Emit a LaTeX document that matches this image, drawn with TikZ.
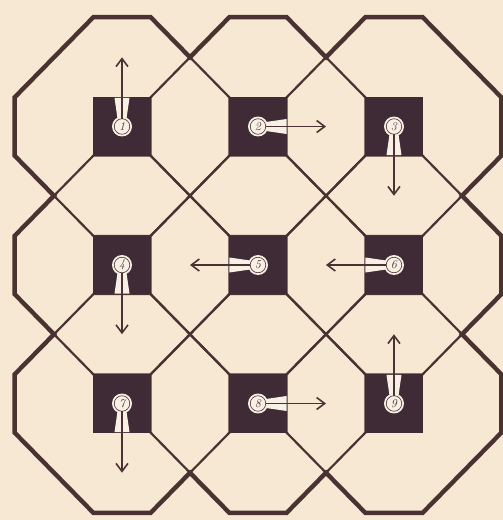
\documentclass[tikz,border=0pt]{standalone}
\usepackage{tikz}
\usetikzlibrary{arrows.meta,calc}
\definecolor{paper}{HTML}{F6E8D3}
\definecolor{ink}{HTML}{4A3233}
\definecolor{pit}{HTML}{3F2B36}
\definecolor{pearl}{HTML}{F8F0E4}
\begin{document}
\begin{tikzpicture}[x=136pt,y=138.5pt,
  seam/.style={ink,line width=2.2pt},
  rim/.style={ink,line width=4.4pt,line join=miter},
  ball/.style={circle,fill=pearl,draw=pearl,double=ink,double distance=0.6pt,
    line width=1.9pt,minimum size=15.5pt,inner sep=0pt,outer sep=0pt,
    font=\fontsize{12}{12}\selectfont\itshape,text=ink},
  move/.style={ink,line width=1.6pt,-{Straight Barb[length=8pt,width=12pt,line width=1.6pt]}}]
\fill[paper] (-1.8971,-1.8412) rectangle (1.8015,1.9134);
\useasboundingbox (-1.8971,-1.8412) rectangle (1.8015,1.9134);
% the nine octagons
\foreach \i in {-1,0,1}
\foreach \j in {-1,0,1}
{
\draw[seam] (\i,\j) ++(-0.21,0.79) -- ++(0.42,0) -- ++(0.58,-0.58) -- ++(0,-0.42)
  -- ++(-0.58,-0.58) -- ++(-0.42,0) -- ++(-0.58,0.58) -- ++(0,0.42) -- cycle;
}
% outer border
\draw[rim] (-1.79,1.21) -- (-1.21,1.79) -- (-0.79,1.79) -- (-0.5,1.5) -- (-0.21,1.79)
  -- (0.21,1.79) -- (0.5,1.5) -- (0.79,1.79) -- (1.21,1.79) -- (1.79,1.21)
  -- (1.79,0.79) -- (1.5,0.5) -- (1.79,0.21) -- (1.79,-0.21) -- (1.5,-0.5)
  -- (1.79,-0.79) -- (1.79,-1.21) -- (1.21,-1.79) -- (0.79,-1.79) -- (0.5,-1.5)
  -- (0.21,-1.79) -- (-0.21,-1.79) -- (-0.5,-1.5) -- (-0.79,-1.79) -- (-1.21,-1.79)
  -- (-1.79,-1.21) -- (-1.79,-0.79) -- (-1.5,-0.5) -- (-1.79,-0.21) -- (-1.79,0.21)
  -- (-1.5,0.5) -- (-1.79,0.79) -- cycle;
% squares, balls and their moves
\foreach \n/\x/\y/\ang in {1/-1/1/90,2/0/1/0,3/1/1/-90,4/-1/0/-90,5/0/0/180,
  6/1/0/180,7/-1/-1/-90,8/0/-1/0,9/1/-1/90}
{
\coordinate (c\n) at (\x,\y);
\fill[pit] ($(c\n)+(-0.21,-0.21)$) rectangle ($(c\n)+(0.21,0.21)$);
\begin{scope}[shift={(c\n)},rotate=\ang]
\fill[pearl] (8pt,4.5pt) -- (28.6pt,7.5pt) -- (28.6pt,-7.5pt) -- (8pt,-4.5pt) -- cycle;
\end{scope}
\node[ball] (b\n) at (c\n) {\n};
\coordinate (e\n) at ($(c\n)+(\ang:0.5)$);
\draw[move] (b\n) -- (e\n);
}
\end{tikzpicture}
\end{document}
